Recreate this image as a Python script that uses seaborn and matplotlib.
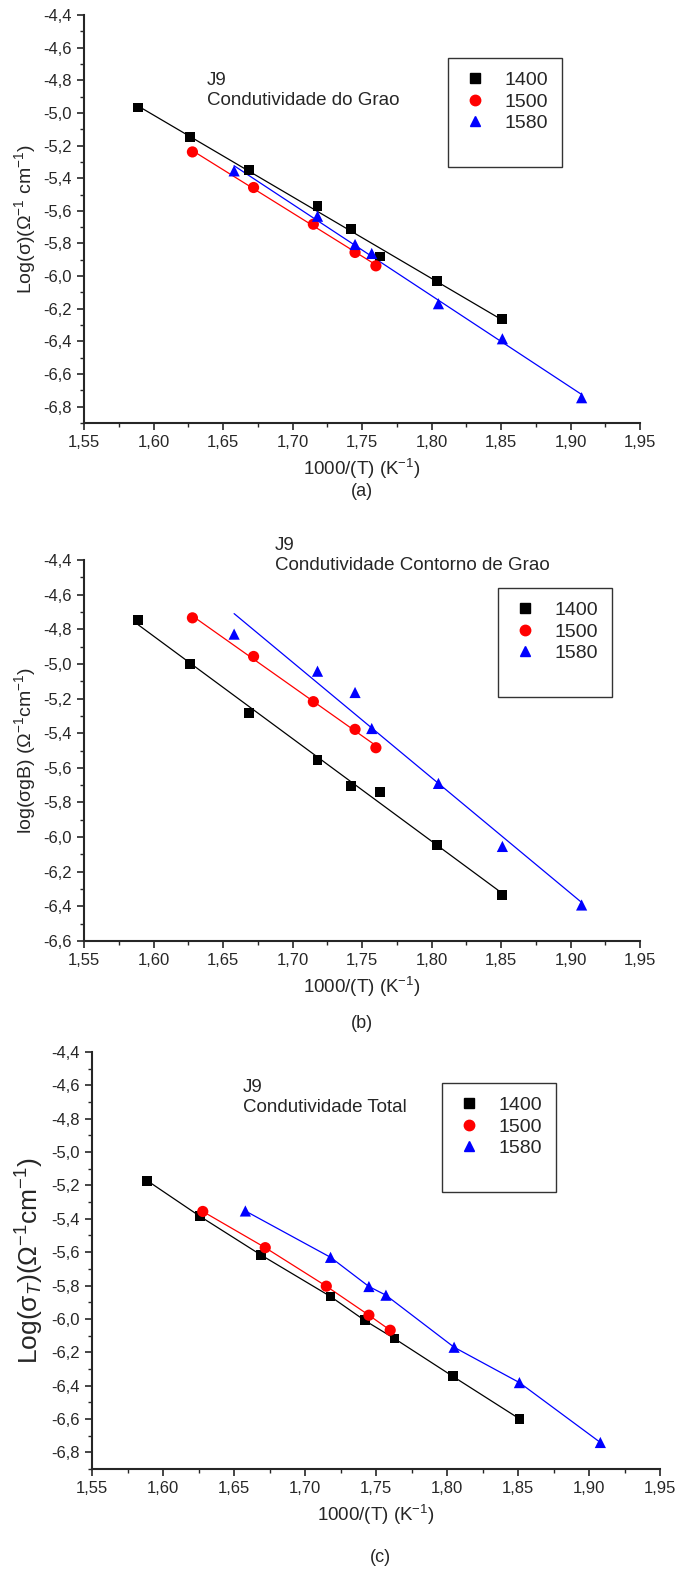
import numpy as np
import matplotlib
matplotlib.use("Agg")
import matplotlib.pyplot as plt
from matplotlib.ticker import MultipleLocator, FuncFormatter
from matplotlib.lines import Line2D
import seaborn as sns

# data (x = 1000/T)
x_1400 = [1.589, 1.626, 1.669, 1.718, 1.742, 1.763, 1.804, 1.851]
x_1500 = [1.628, 1.672, 1.715, 1.745, 1.760]
x_1580 = [1.658, 1.718, 1.745, 1.757, 1.805, 1.851, 1.908]

# (a) grain conductivity
a_1400 = [-4.967, -5.147, -5.351, -5.569, -5.710, -5.880, -6.031, -6.265]
a_1500 = [-5.239, -5.457, -5.682, -5.855, -5.937]
a_1580 = [-5.355, -5.633, -5.806, -5.861, -6.169, -6.384, -6.745]

# (b) grain boundary conductivity
b_1400 = [-4.746, -5.000, -5.284, -5.555, -5.703, -5.740, -6.048, -6.333]
b_1500 = [-4.734, -4.957, -5.218, -5.378, -5.484]
b_1580 = [-4.828, -5.042, -5.165, -5.373, -5.690, -6.054, -6.392]

# (c) total conductivity
c_1400 = [-5.172, -5.385, -5.617, -5.866, -6.009, -6.118, -6.344, -6.599]
c_1500 = [-5.356, -5.573, -5.804, -5.978, -6.068]
c_1580 = [-5.353, -5.631, -5.806, -5.858, -6.170, -6.382, -6.741]

labels = ["1400", "1500", "1580"]
colors = ["black", "red", "blue"]
markers = ["s", "o", "^"]

sns.set_style("ticks")
plt.rcParams['font.family'] = ['Liberation Sans', 'DejaVu Sans']
plt.rcParams['mathtext.fontset'] = 'custom'
plt.rcParams['mathtext.rm'] = 'Liberation Sans'
plt.rcParams['mathtext.it'] = 'Liberation Sans:italic'

fig = plt.figure(figsize=(6.78, 15.74), dpi=100)

comma = FuncFormatter(lambda v, p: ("%.2f" % v).replace(".", ","))
comma1 = FuncFormatter(lambda v, p: ("%.1f" % v).replace(".", ","))


def panel(rect, ys, ylim, ylabel, ylab_size, fit, leg_xy, note_xy, note, tick_size=12):
    ax = fig.add_axes(rect)
    xs = [x_1400, x_1500, x_1580]
    for x, y, c, m in zip(xs, ys, colors, markers):
        if fit:
            sns.regplot(x=np.array(x), y=np.array(y), ci=None, scatter=False, ax=ax,
                        color=c, line_kws={'lw': 0.9})
        else:
            sns.lineplot(x=x, y=y, ax=ax, color=c, lw=0.9, sort=False)
        sns.scatterplot(x=x, y=y, ax=ax, color=c, marker=m, s=65 if m != "s" else 50,
                        edgecolor='none', zorder=3)
    ax.set_xlim(1.55, 1.95)
    ax.set_ylim(*ylim)
    ax.xaxis.set_major_locator(MultipleLocator(0.05))
    ax.xaxis.set_minor_locator(MultipleLocator(0.025))
    ax.yaxis.set_major_locator(MultipleLocator(0.2))
    ax.yaxis.set_minor_locator(MultipleLocator(0.1))
    ax.xaxis.set_major_formatter(comma)
    ax.yaxis.set_major_formatter(comma1)
    ax.tick_params(which='major', direction='out', length=5, width=1.2, labelsize=tick_size)
    ax.tick_params(which='minor', direction='out', length=3, width=1.0)
    for s in ['top', 'right']:
        ax.spines[s].set_visible(False)
    for s in ['left', 'bottom']:
        ax.spines[s].set_linewidth(1.5)
    ax.set_xlabel("1000/(T) (K$^{-1}$)", fontsize=13.5, labelpad=5)
    ax.set_ylabel(ylabel, fontsize=ylab_size, labelpad=4)

    handles = [Line2D([], [], ls='none', marker=m, color=c, markersize=7.5)
               for c, m in zip(colors, markers)]
    handles.append(Line2D([], [], ls='none'))
    leg = ax.legend(handles, labels + [" "], loc='upper left',
                    bbox_to_anchor=leg_xy, bbox_transform=fig.transFigure,
                    fontsize=14, frameon=True, fancybox=False, handletextpad=0.8,
                    labelspacing=0.2, borderpad=0.7, handlelength=1.4,
                    borderaxespad=0)
    leg.get_frame().set_edgecolor('black')
    leg.get_frame().set_linewidth(1.0)
    fig.text(note_xy[0], note_xy[1], "J9\n" + note, fontsize=13.5, va='top', ha='left',
             linespacing=1.25)
    return ax


H = 1574.0
W = 678.0

panel([84 / W, 1 - 423 / H, 556 / W, 408 / H], [a_1400, a_1500, a_1580], (-6.9, -4.4),
      "Log(σ)(Ω$^{-1}$ cm$^{-1}$)", 14, True, (448 / W, 1 - 58 / H),
      (207 / W, 1 - 72 / H), "Condutividade do Grao")
fig.text(362 / W, 1 - 492 / H, "(a)", fontsize=13, ha='center', va='center')

panel([84 / W, 1 - 941 / H, 556 / W, 381 / H], [b_1400, b_1500, b_1580], (-6.6, -4.4),
      "log(σgB) (Ω$^{-1}$cm$^{-1}$)", 14, True, (498 / W, 1 - 588 / H),
      (275 / W, 1 - 537 / H), "Condutividade Contorno de Grao")
fig.text(362 / W, 1 - 1023 / H, "(b)", fontsize=13, ha='center', va='center')

panel([92 / W, 1 - 1469 / H, 568 / W, 417 / H], [c_1400, c_1500, c_1580], (-6.9, -4.4),
      "Log(σ$_{T}$)(Ω$^{-1}$cm$^{-1}$)", 19, False, (442 / W, 1 - 1083 / H),
      (243 / W, 1 - 1079 / H), "Condutividade Total")
fig.text(380 / W, 1 - 1558 / H, "(c)", fontsize=13, ha='center', va='center')

fig.savefig("out.png", dpi=100)
